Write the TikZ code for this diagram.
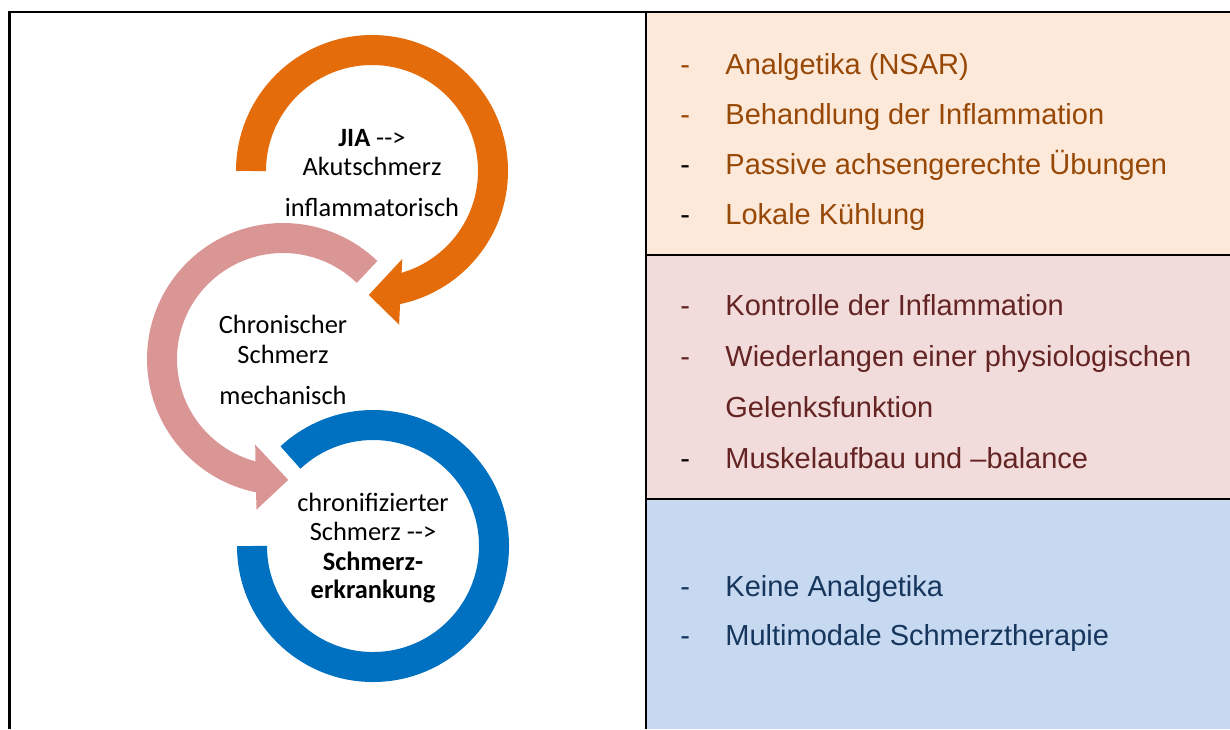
\documentclass[tikz,border=0pt]{standalone}
\usepackage{fontspec}
\setmainfont{Liberation Sans}
\newfontfamily\calibri{Carlito}
\usepackage{tikz}
\usetikzlibrary{positioning}
\definecolor{jiaorange}{RGB}{228,108,10}
\definecolor{chronpink}{RGB}{217,150,148}
\definecolor{krankblue}{RGB}{0,112,192}
\definecolor{rowpeach}{RGB}{253,233,217}
\definecolor{rowrose}{RGB}{242,220,219}
\definecolor{rowsky}{RGB}{198,217,241}
\definecolor{txtbrown}{RGB}{152,72,6}
\definecolor{txtred}{RGB}{99,36,35}
\definecolor{txtnavy}{RGB}{23,54,93}
\tikzstyle{ring} = [line width=15pt]
\tikzstyle{ringtext} = [anchor=base,inner sep=0pt,font=\calibri\fontsize{13.2}{15}\selectfont]
\tikzstyle{item} = [anchor=base west,inner sep=0pt,font=\fontsize{14.5}{17}\selectfont]
\tikzstyle{rule} = [line width=1.3pt,black]
\newcommand{\itm}[2]{\makebox[22.5pt][l]{\color{#1}-}#2}

\begin{document}
\begin{tikzpicture}[x=0.5pt,y=0.5pt]
	\useasboundingbox (0,0) rectangle (1230,-729);
	%Cells
	\fill[rowpeach] (646,-12) rectangle (1230,-255);
	\fill[rowrose] (646,-255) rectangle (1230,-499);
	\fill[rowsky] (646,-499) rectangle (1230,-729);
	\draw[rule] (9.5,-729) -- (9.5,-12) -- (1230,-12);
	\draw[rule] (646,-12) -- (646,-729);
	\draw[rule] (646,-255) -- (1230,-255);
	\draw[rule] (646,-499) -- (1230,-499);

	%Rings
	\coordinate (JIA) at (372,-171);
	\coordinate (Chron) at (283,-359);
	\coordinate (Krank) at (373,-546);
	\draw[ring,krankblue] ([shift={(180:121)}]Krank) arc[start angle=180,end angle=493,radius=121];
	\draw[ring,chronpink] ([shift={(46:121)}]Chron) arc[start angle=46,end angle=260,radius=121];
	\fill[chronpink] ([shift={(252:90)}]Chron) -- ([shift={(260:153)}]Chron) -- ([shift={(272.5:121)}]Chron) -- cycle;
	\draw[ring,jiaorange] ([shift={(180:121)}]JIA) arc[start angle=180,end angle=-80,radius=121];
	\fill[jiaorange] ([shift={(-71:93)}]JIA) -- ([shift={(-80:156)}]JIA) -- ([shift={(-91.5:124)}]JIA) -- cycle;

	%Ring labels
	\node[ringtext] (jia) at (372,-146.7) {\textbf{JIA} -\kern0pt-\kern0pt>};
	\node[ringtext] (akut) at (372,-175) {Akutschmerz};
	\node[ringtext] (infl) at (372,-216) {inflammatorisch};
	\node[ringtext] (chron) at (283,-333) {Chronischer};
	\node[ringtext] (schm) at (283,-363) {Schmerz};
	\node[ringtext] (mech) at (283,-404) {mechanisch};
	\node[ringtext] (chrf) at (373,-511.7) {chronifizierter};
	\node[ringtext] (schp) at (373,-540) {Schmerz -\kern0pt-\kern0pt>};
	\node[ringtext] (sche) at (373,-570) {\textbf{Schmerz-}};
	\node[ringtext] (erkr) at (373,-598) {\textbf{erkrankung}};

	%Items
	\node[item,text=txtbrown] (ana) at (680,-74) {\itm{txtbrown}{Analgetika (NSAR)}};
	\node[item,text=txtbrown,below=25pt of ana.base west,anchor=base west] (beh) {\itm{txtbrown}{Behandlung der Inflammation}};
	\node[item,text=txtbrown,below=25pt of beh.base west,anchor=base west] (pas) {\itm{black}{Passive achsengerechte Übungen}};
	\node[item,text=txtbrown,below=25pt of pas.base west,anchor=base west] (lok) {\itm{black}{Lokale Kühlung}};
	\node[item,text=txtred] (kon) at (680,-315) {\itm{txtred}{Kontrolle der Inflammation}};
	\node[item,text=txtred,below=25.5pt of kon.base west,anchor=base west] (wie) {\itm{txtred}{Wiederlangen einer physiologischen}};
	\node[item,text=txtred,below=25.5pt of wie.base west,anchor=base west] (gel) {\makebox[22.5pt]{}Gelenksfunktion};
	\node[item,text=txtred,below=25.5pt of gel.base west,anchor=base west] (mus) {\itm{black}{Muskelaufbau und –balance}};
	\node[item,text=txtnavy] (kei) at (680,-596) {\itm{txtnavy}{Keine Analgetika}};
	\node[item,text=txtnavy,below=24.5pt of kei.base west,anchor=base west] (mul) {\itm{txtnavy}{Multimodale Schmerztherapie}};
\end{tikzpicture}
\end{document}
